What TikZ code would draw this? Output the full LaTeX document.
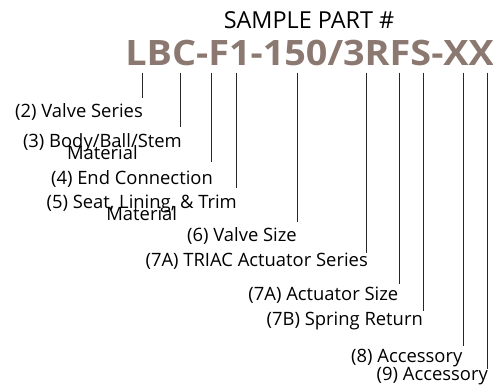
\documentclass[tikz,border=0pt]{standalone}
\usepackage{fontspec}
\setmainfont{Open Sans}
\newfontfamily\partfont[FakeStretch=1.08]{Open Sans}
\definecolor{partgray}{RGB}{139,121,113}
\newcommand\labelfont{\fontsize{18.4}{12}\selectfont\lineskiplimit-100pt\relax}
\tikzset{
  fieldlabel/.style={anchor=base east,inner sep=0pt,align=center,font=\labelfont},
  fieldline/.style={line width=0.8pt,black!85}
}
\begin{document}
\begin{tikzpicture}[x=1pt,y=-1pt]
\useasboundingbox (0,0) rectangle (493,391);
\node[anchor=base,inner sep=0pt,font=\fontsize{23.4}{23.4}\selectfont] (title) at (309,28.3) {SAMPLE PART \#};
\node[anchor=base east,inner sep=0pt,text=partgray,font=\partfont\bfseries\fontsize{35}{35}\selectfont] (part) at (494,65) {LBC-F1-150/3RFS-XX};
\node[fieldlabel] (series) at (143,117.5) {(2) Valve Series};
\node[fieldlabel] (body) at (182,159) {(3) Body/Ball/Stem\\Material};
\node[fieldlabel] (endconn) at (213,184) {(4) End Connection};
\node[fieldlabel] (seat) at (237,220) {(5) Seat, Lining, \& Trim\\Material};
\node[fieldlabel] (size) at (297,241.7) {(6) Valve Size};
\node[fieldlabel] (triac) at (368,266.7) {(7A) TRIAC Actuator Series};
\node[fieldlabel] (actsize) at (398.5,300) {(7A) Actuator Size};
\node[fieldlabel] (spring) at (423,325) {(7B) Spring Return};
\node[fieldlabel] (acc8) at (462.5,362.5) {(8) Accessory};
\node[fieldlabel] (acc9) at (488,380) {(9) Accessory};
\coordinate (c2) at (142.7,72.7);
\coordinate (c3) at (180,72.7);
\coordinate (c4) at (211.7,72.7);
\coordinate (c5) at (236.7,72.7);
\coordinate (c6) at (297,72.7);
\coordinate (c7a) at (366.7,72.7);
\coordinate (c7s) at (399,72.7);
\coordinate (c7b) at (423,72.7);
\coordinate (c8) at (463,72.7);
\coordinate (c9) at (487,72.7);
\draw[fieldline,shorten >=5pt] (c2) -- (c2 |- series.north);
\draw[fieldline,shorten >=5.5pt] (c3) -- (c3 |- body.north);
\draw[fieldline,shorten >=7.5pt] (c4) -- (c4 |- endconn.north);
\draw[fieldline,shorten >=6.5pt] (c5) -- (c5 |- seat.north);
\draw[fieldline,shorten >=6pt] (c6) -- (c6 |- size.north);
\draw[fieldline] (c7a) -- (c7a |- triac.north);
\draw[fieldline,shorten >=2pt] (c7s) -- (c7s |- actsize.north);
\draw[fieldline] (c7b) -- (c7b |- spring.north);
\draw[fieldline,shorten >=3pt] (c8) -- (c8 |- acc8.north);
\draw[fieldline,shorten >=-3pt] (c9) -- (c9 |- acc9.north);
\end{tikzpicture}
\end{document}
